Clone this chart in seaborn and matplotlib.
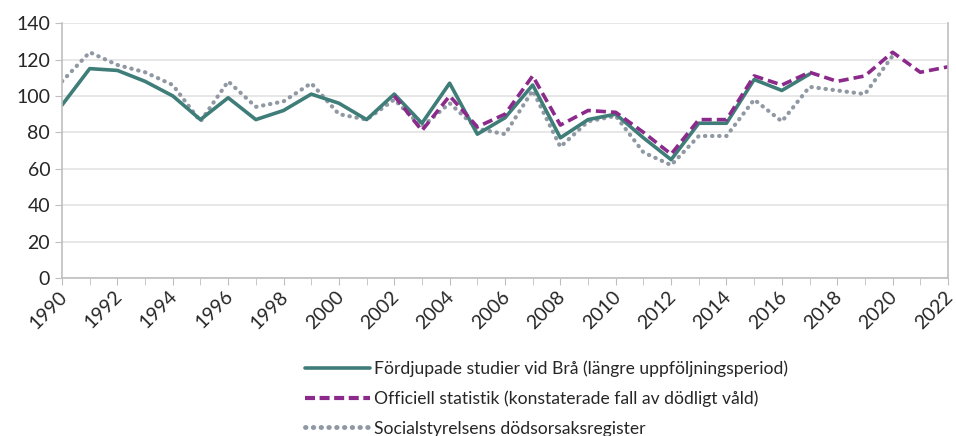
import numpy as np
import pandas as pd
import seaborn as sns
import matplotlib.pyplot as plt
import matplotlib.transforms as mtransforms

# values
years = list(range(1990, 2023))
bra = [95, 115, 114, 108, 100, 87, 99, 87, 92, 101, 96, 87, 101, 85, 107, 79, 88, 106,
       77, 87, 90, 77, 65, 85, 85, 109, 103, 112] + [np.nan] * 5
officiell = [np.nan] * 12 + [100, 81, 100, 83, 90, 111, 84, 92, 91, 80, 68, 87, 87,
                             111, 106, 113, 108, 111, 124, 113, 116]
socialstyr = [108, 124, 117, 113, 106, 86, 108, 94, 97, 107, 90, 87, 98, 83, 96, 82, 79,
              103, 72, 86, 89, 69, 62, 78, 78, 98, 86, 105, 103, 101, 122] + [np.nan] * 2

labels = ["Fördjupade studier vid Brå (längre uppföljningsperiod)",
          "Officiell statistik (konstaterade fall av dödligt våld)",
          "Socialstyrelsens dödsorsaksregister"]

df = pd.DataFrame({"year": years * 3,
                   "value": bra + officiell + socialstyr,
                   "serie": [labels[0]] * 33 + [labels[1]] * 33 + [labels[2]] * 33})

sns.set_style("white")
plt.rcParams["font.family"] = ["Lato", "DejaVu Sans"]

fig = plt.figure(figsize=(9.56, 4.36), dpi=100)
ax = fig.add_axes([0.0649, 0.3624, 0.9267, 0.5846])

colors = {labels[0]: "#3f7d79", labels[1]: "#8c2a8c", labels[2]: "#9099a3"}
sns.lineplot(data=df, x="year", y="value", hue="serie", style="serie",
             palette=colors, linewidth=2.6, ax=ax, legend=False,
             dashes={labels[0]: "", labels[1]: (2.8, 1.4), labels[2]: (0.1, 1.6)})
# dotted line with round caps
ax.lines[2].set_dash_capstyle("round")
ax.lines[2].set_linewidth(3)
ax.lines[2].set_zorder(1)

ax.set_xlim(1990, 2022)
ax.set_ylim(0, 140)
ax.set_xticks(range(1990, 2023, 2))
ax.set_xticks(range(1990, 2023), minor=True)
ax.set_yticks(range(0, 141, 20))
ax.tick_params(axis="x", which="both", direction="out", length=5, color="#bfbfbf",
               labelsize=14, labelrotation=45, bottom=True, pad=2)
ax.tick_params(axis="y", direction="out", length=5, color="#bfbfbf", labelsize=14, left=True)
shift = mtransforms.ScaledTranslation(-4 / 100, 0, fig.dpi_scale_trans)
for lab in ax.get_xticklabels():
    lab.set_ha("right")
    lab.set_rotation_mode("anchor")
    lab.set_transform(lab.get_transform() + shift)
ax.yaxis.grid(True, color="#e3e3e3", linewidth=1.2)
ax.set_axisbelow(True)
for side in ["left", "bottom", "right"]:
    ax.spines[side].set_color("#bfbfbf")
    ax.spines[side].set_linewidth(1.2)
ax.spines["top"].set_visible(False)
ax.set_xlabel("")
ax.set_ylabel("")

handles = [plt.Line2D([], [], color=colors[labels[0]], lw=2.6),
           plt.Line2D([], [], color=colors[labels[1]], lw=3, dashes=(2.4, 1.1)),
           plt.Line2D([], [], color=colors[labels[2]], lw=3.5, dashes=(0.1, 1.5),
                      dash_capstyle="round")]
fig.legend(handles, labels, loc="upper left", bbox_to_anchor=(0.312, 0.19),
           frameon=False, fontsize=12.6, handlelength=3.7, handletextpad=0.2,
           labelspacing=0.78, borderaxespad=0)

fig.savefig("out.png", dpi=100)
